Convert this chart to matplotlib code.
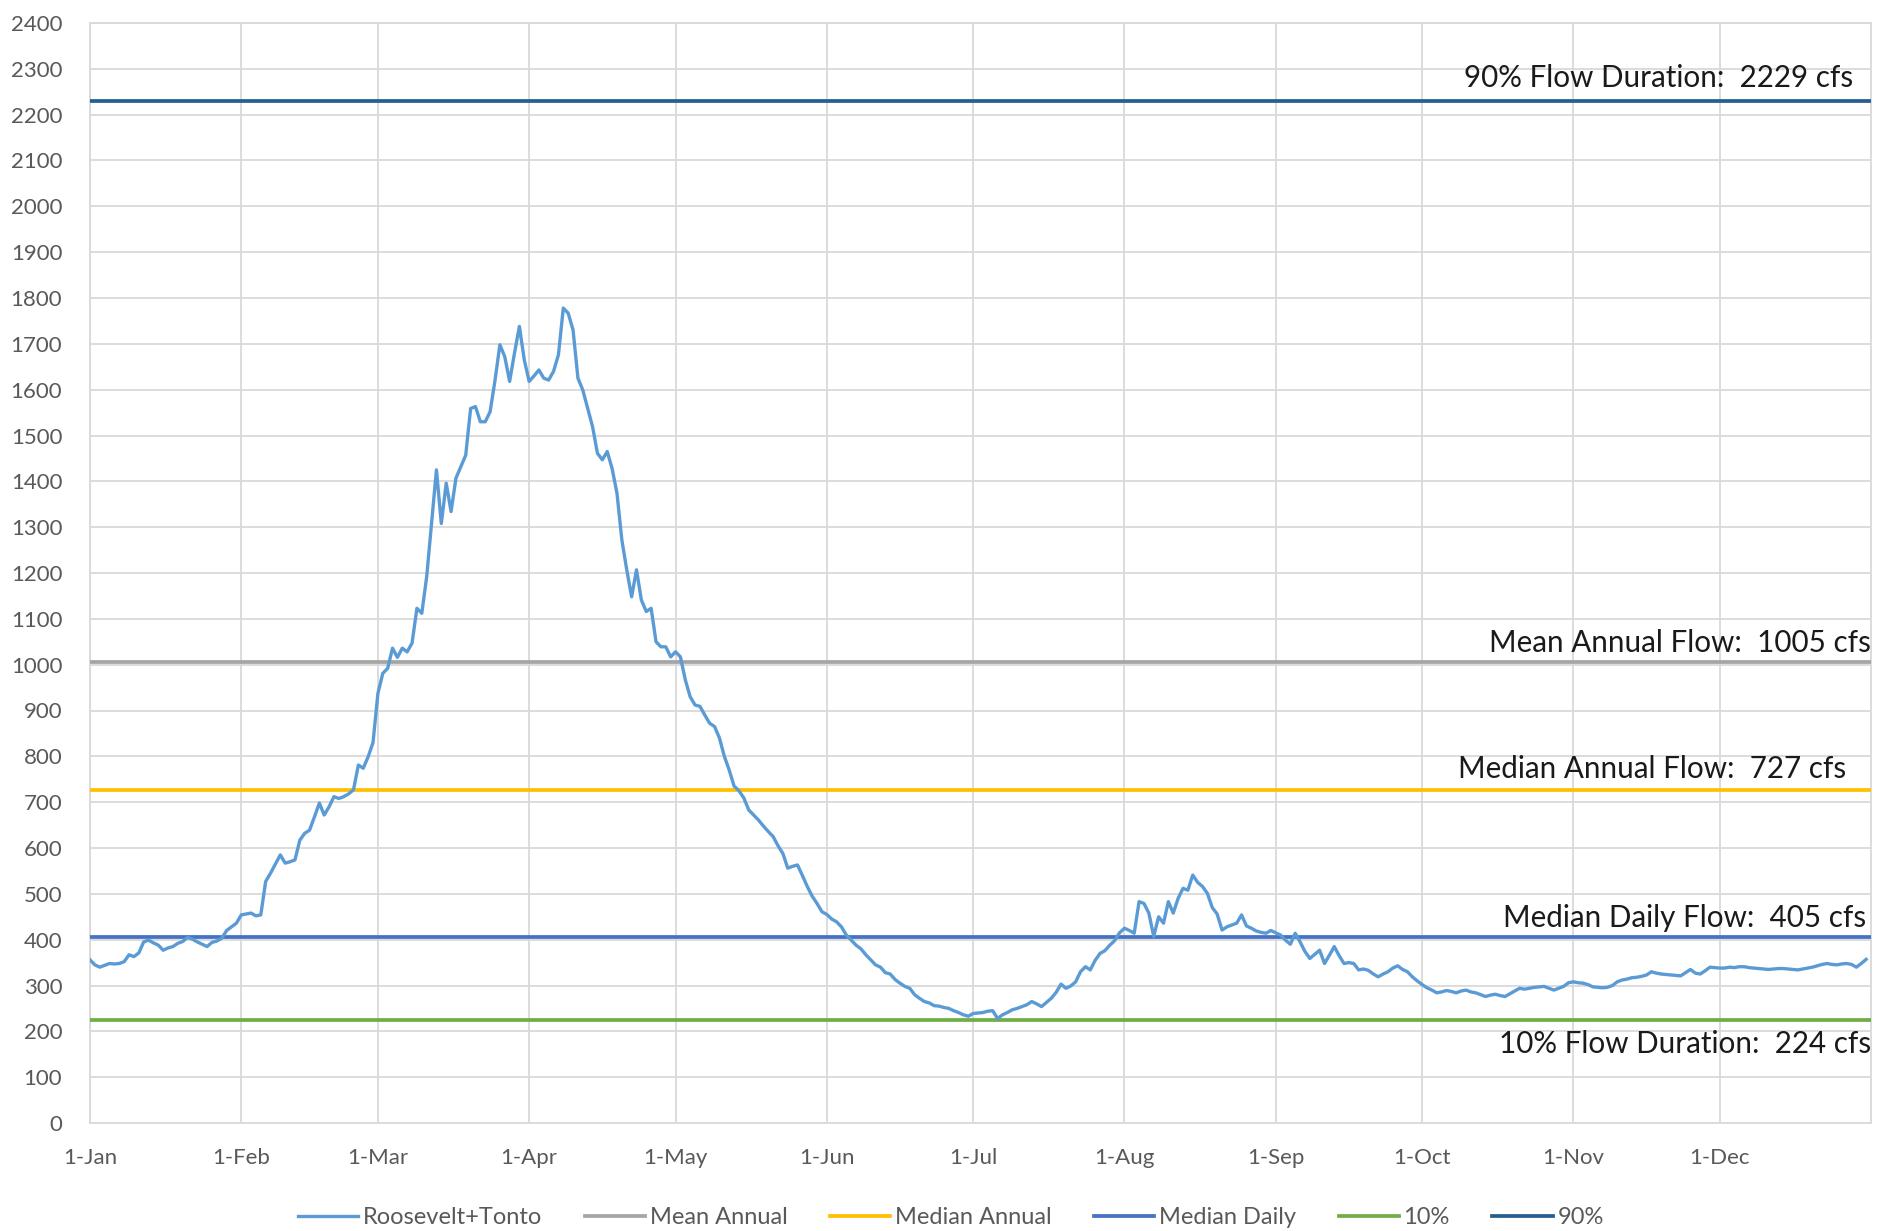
import numpy as np
import matplotlib
matplotlib.use("Agg")
import matplotlib.pyplot as plt

plt.rcParams['font.family'] = ['Lato', 'DejaVu Sans']

# daily flow (cfs), Roosevelt + Tonto, one list per month
jan = [356, 345, 340, 344, 348, 347, 348, 352, 367, 363, 371, 395, 399, 393, 388, 377,
       382, 385, 392, 396, 405, 401, 395, 390, 385, 394, 397, 403, 420, 428, 436]
feb = [454, 456, 458, 452, 454, 527, 545, 565, 585, 567, 570, 574, 617, 632, 639, 668,
       698, 672, 690, 712, 708, 712, 718, 727, 781, 774, 799, 830]
mar = [937, 981, 992, 1036, 1016, 1036, 1028, 1047, 1123, 1112, 1192, 1308, 1425, 1308,
       1396, 1334, 1407, 1432, 1457, 1559, 1563, 1530, 1530, 1552, 1620, 1698, 1672, 1618,
       1680, 1738, 1665]
apr = [1618, 1630, 1643, 1625, 1621, 1640, 1676, 1778, 1767, 1730, 1625, 1599, 1559, 1519,
       1461, 1447, 1465, 1428, 1374, 1272, 1207, 1148, 1207, 1141, 1116, 1123, 1050, 1039,
       1039, 1017]
may = [1028, 1017, 967, 930, 912, 909, 890, 872, 865, 840, 800, 770, 735, 725, 709, 683,
       672, 661, 648, 636, 625, 605, 588, 556, 560, 563, 540, 516, 495, 479, 461]
jun = [455, 445, 439, 428, 410, 399, 388, 380, 367, 356, 345, 340, 328, 325, 313, 305,
       298, 294, 280, 272, 265, 262, 256, 255, 252, 250, 245, 241, 236, 233]
jul = [239, 240, 241, 244, 245, 228, 236, 241, 247, 250, 254, 258, 265, 260, 254, 263,
       272, 285, 303, 294, 299, 308, 330, 341, 334, 355, 370, 376, 388, 398, 415]
aug = [425, 420, 414, 483, 479, 458, 407, 450, 436, 483, 458, 490, 512, 508, 541, 525,
       516, 501, 470, 456, 421, 428, 432, 436, 454, 430, 425, 419, 416, 414, 420]
sep = [415, 410, 399, 390, 414, 395, 374, 359, 368, 377, 348, 366, 385, 365, 348, 350,
       348, 334, 336, 333, 325, 319, 325, 330, 338, 343, 335, 330, 319, 310]
oct_ = [302, 295, 290, 284, 286, 289, 287, 284, 288, 290, 286, 284, 280, 276, 279, 281,
        278, 276, 282, 288, 294, 292, 294, 296, 297, 298, 294, 290, 294, 298, 306]
nov = [308, 306, 305, 302, 297, 296, 295, 296, 300, 308, 312, 314, 317, 318, 320, 323,
       330, 327, 325, 324, 323, 322, 321, 328, 335, 327, 325, 332, 340, 339]
dec = [338, 338, 340, 339, 341, 341, 339, 338, 337, 336, 335, 336, 337, 337, 336, 335,
       334, 336, 338, 340, 343, 346, 348, 346, 345, 347, 348, 346, 340, 348, 357]

flow = np.array(jan + feb + mar + apr + may + jun + jul + aug + sep + oct_ + nov + dec)
days = np.arange(len(flow))

month_labels = ['1-Jan', '1-Feb', '1-Mar', '1-Apr', '1-May', '1-Jun',
                '1-Jul', '1-Aug', '1-Sep', '1-Oct', '1-Nov', '1-Dec']
month_starts = [0, 31, 59, 90, 120, 151, 181, 212, 243, 273, 304, 334]

mean_annual = 1005
median_annual = 727
median_daily = 405
p10 = 224
p90 = 2229

grid_c = '#D9D9D9'
text_c = '#595959'

fig = plt.figure(figsize=(18.83, 12.31), dpi=100)
ax = fig.add_axes([90 / 1883, 1 - 1123 / 1231, (1871 - 90) / 1883, (1123 - 23) / 1231])

ax.plot(days, flow, color='#5B9BD5', lw=2.4, label='Roosevelt+Tonto', zorder=4)
ax.axhline(mean_annual, color='#A5A5A5', lw=2.7, label='Mean Annual', zorder=3)
ax.axhline(median_annual, color='#FFC000', lw=2.7, label='Median Annual', zorder=3)
ax.axhline(median_daily, color='#4472C4', lw=2.7, label='Median Daily', zorder=3)
ax.axhline(p10, color='#70AD47', lw=2.7, label='10%', zorder=3)
ax.axhline(p90, color='#255E91', lw=2.7, label='90%', zorder=3)

ax.set_xlim(0, 365)
ax.set_ylim(0, 2400)
ax.set_yticks(np.arange(0, 2401, 100))
ax.set_xticks(month_starts)
ax.set_xticklabels(month_labels)
ax.grid(True, color=grid_c, lw=1.3, zorder=0)
ax.set_axisbelow(True)
for s in ax.spines.values():
    s.set_color(grid_c)
    s.set_linewidth(1.3)
ax.tick_params(axis='y', length=0, pad=20, labelsize=16, labelcolor=text_c)
ax.tick_params(axis='x', length=0, pad=18, labelsize=16, labelcolor=text_c)

lab_kw = dict(ha='right', fontsize=21.3, color='#1a1a1a', clip_on=False, zorder=5,
              textcoords='offset points')
ax.annotate(f'90% Flow Duration:  {p90} cfs', (361.3, p90), xytext=(0, 7),
            va='bottom', **lab_kw)
ax.annotate(f'Mean Annual Flow:  {mean_annual} cfs', (365, mean_annual), xytext=(0, 4),
            va='bottom', **lab_kw)
ax.annotate(f'Median Annual Flow:  {median_annual} cfs', (360, median_annual), xytext=(0, 5),
            va='bottom', **lab_kw)
ax.annotate(f'Median Daily Flow:  {median_daily} cfs', (364.1, median_daily), xytext=(0, 4),
            va='bottom', **lab_kw)
ax.annotate(f'10% Flow Duration:  {p10} cfs', (365, p10), xytext=(0, -7),
            va='top', **lab_kw)

leg = ax.legend(loc='center', bbox_to_anchor=(0.505, 0.0106), bbox_transform=fig.transFigure,
                ncol=6, frameon=False, fontsize=17, handlelength=2.55, handletextpad=0.2,
                columnspacing=1.8)
for t in leg.get_texts():
    t.set_color(text_c)

fig.savefig('out.png', dpi=100, facecolor='white')
